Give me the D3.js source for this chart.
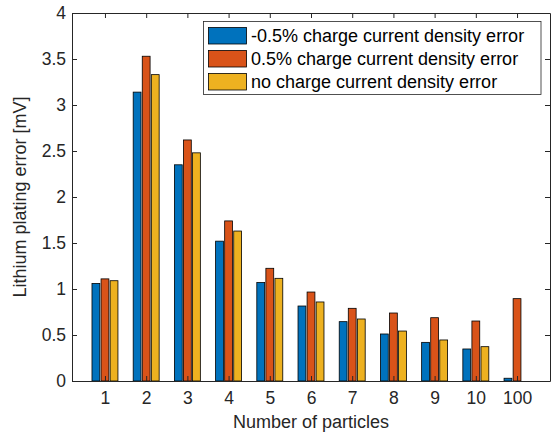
<!DOCTYPE html>
<html lang="en">
<head>
<meta charset="UTF-8">
<title>Lithium plating error</title>
<script src="https://d3js.org/d3.v7.min.js"></script>
<style>
    body { margin: 0; background: #fff; }
    svg { font-family: "Liberation Sans", Arial, sans-serif; }
    .tick text { font-size: 17.5px; fill: #262626; }
    .label { font-size: 18px; fill: #262626; }
    .legend text { font-size: 18px; fill: #000; }
</style>
</head>
<body>
<svg id="chart" width="557" height="437"></svg>
<script>
    // categories (number of particles)
    const categories = ["1", "2", "3", "4", "5", "6", "7", "8", "9", "10", "100"];

    // series values [mV]
    const seriesNames = [
        "-0.5% charge current density error",
        "0.5% charge current density error",
        "no charge current density error"
    ];
    const minusHalf = [1.06, 3.14, 2.35, 1.52, 1.07, 0.815, 0.645, 0.511, 0.42, 0.348, 0.03];
    const plusHalf  = [1.11, 3.53, 2.62, 1.74, 1.225, 0.967, 0.79, 0.739, 0.688, 0.652, 0.895];
    const noError   = [1.09, 3.33, 2.48, 1.63, 1.116, 0.859, 0.674, 0.543, 0.446, 0.373, 0];
    const series = [minusHalf, plusHalf, noError];
    const colors = ["#0072BD", "#D95319", "#EDB120"];

    const yTicks = [0, 0.5, 1, 1.5, 2, 2.5, 3, 3.5, 4];

    const margin = { left: 72, top: 13, right: 7, bottom: 56 };
    const width = 557, height = 437;
    const svg = d3.select("#chart");

    const x = d3.scaleLinear()
        .domain([0.2, categories.length + 0.8])
        .range([margin.left, width - margin.right]);
    const y = d3.scaleLinear()
        .domain([0, 4])
        .range([height - margin.bottom, margin.top]);

    const step = x(2) - x(1);
    const barW = step * 0.19;
    const offsets = [-0.22, 0, 0.22];

    // bars
    series.forEach((vals, s) => {
        svg.append("g")
            .selectAll("rect")
            .data(vals)
            .join("rect")
            .attr("x", (d, i) => x(i + 1 + offsets[s]) - barW / 2)
            .attr("y", d => y(d))
            .attr("width", barW)
            .attr("height", d => y(0) - y(d))
            .attr("fill", colors[s])
            .attr("stroke", "#000")
            .attr("stroke-width", d => d > 0 ? 0.8 : 0);
    });

    const tickIdx = categories.map((c, i) => i + 1);

    // axes
    svg.append("g")
        .attr("transform", `translate(0,${y(0)})`)
        .call(d3.axisBottom(x).tickValues(tickIdx).tickFormat(d => categories[d - 1])
            .tickSizeInner(-5).tickSizeOuter(0).tickPadding(11));
    svg.append("g")
        .attr("transform", `translate(0,${y(4)})`)
        .call(d3.axisTop(x).tickValues(tickIdx).tickFormat("")
            .tickSizeInner(-5).tickSizeOuter(0));
    svg.append("g")
        .attr("transform", `translate(${x.range()[0]},0)`)
        .call(d3.axisLeft(y).tickValues(yTicks).tickFormat(d3.format("~g"))
            .tickSizeInner(-5).tickSizeOuter(0).tickPadding(6));
    svg.append("g")
        .attr("transform", `translate(${x.range()[1]},0)`)
        .call(d3.axisRight(y).tickValues(yTicks).tickFormat("")
            .tickSizeInner(-5).tickSizeOuter(0));

    svg.selectAll(".domain").attr("stroke", "#262626");
    svg.selectAll(".tick line").attr("stroke", "#262626");

    // axis labels
    svg.append("text")
        .attr("class", "label")
        .attr("x", (x.range()[0] + x.range()[1]) / 2)
        .attr("y", 428)
        .attr("text-anchor", "middle")
        .text("Number of particles");
    svg.append("text")
        .attr("class", "label")
        .attr("transform", `translate(26,${(y(0) + y(4)) / 2}) rotate(-90)`)
        .attr("text-anchor", "middle")
        .text("Lithium plating error [mV]");

    // legend
    const legend = svg.append("g").attr("class", "legend");
    legend.append("rect")
        .attr("x", 203.5).attr("y", 21.5).attr("width", 337.5).attr("height", 73)
        .attr("fill", "#fff").attr("stroke", "#262626").attr("stroke-width", 0.8);
    seriesNames.forEach((name, i) => {
        const ly = 35.5 + i * 23;
        legend.append("rect")
            .attr("x", 208.5).attr("y", ly - 8).attr("width", 38).attr("height", 16.5)
            .attr("fill", colors[i]).attr("stroke", "#000").attr("stroke-width", 0.8);
        legend.append("text")
            .attr("x", 251).attr("y", ly + 6.5)
            .text(name);
    });
</script>
</body>
</html>
